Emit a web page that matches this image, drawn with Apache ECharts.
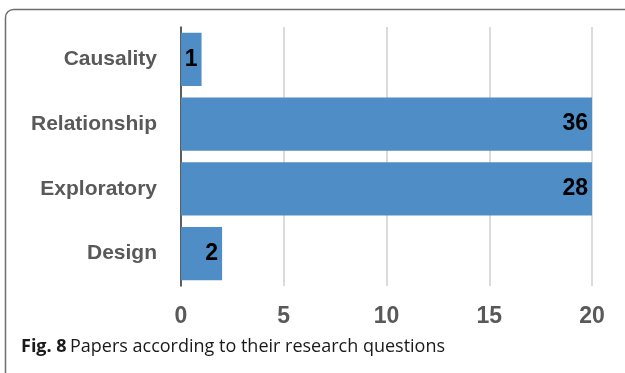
<!DOCTYPE html>
<html>
<head>
<meta charset="utf-8">
<script src="https://cdn.jsdelivr.net/npm/echarts@6/dist/echarts.min.js"></script>
<style>
  html, body { margin: 0; padding: 0; background: #fff; }
  #chart { width: 625px; height: 373px; }
</style>
</head>
<body>
<div id="chart"></div>
<script>
var categories = ['Causality', 'Relationship', 'Exploratory', 'Design'];
var papers = [1, 36, 28, 2];
var xTicks = [0, 5, 10, 15, 20];

// no condensed face installed, Liberation Sans bold comes closest in shape
var labelFont = '"Liberation Sans", Arial, sans-serif';

var chartDom = document.getElementById('chart');
var myChart = echarts.init(chartDom);
var option;

option = {
    animation: false,
    backgroundColor: '#fff',
    grid: {
        left: 181,
        right: 33,
        top: 27,
        bottom: 87
    },
    xAxis: {
        type: 'value',
        min: xTicks[0],
        max: xTicks[xTicks.length - 1],
        interval: 5,
        axisLine: { show: false },
        axisTick: { show: false },
        axisLabel: {
            margin: 19,
            color: '#595959',
            fontFamily: labelFont,
            fontWeight: 'bold',
            fontSize: 23
        },
        splitLine: {
            show: true,
            lineStyle: { color: '#cfcfcf', width: 1.5 }
        }
    },
    yAxis: {
        type: 'category',
        inverse: true,
        data: categories,
        axisLine: { show: true, lineStyle: { color: '#333', width: 1.5 } },
        axisTick: { show: false },
        axisLabel: {
            margin: 24,
            color: '#595959',
            fontFamily: labelFont,
            fontWeight: 'bold',
            fontSize: 21
        }
    },
    series: [{
        type: 'bar',
        data: papers,
        clip: true,
        barCategoryGap: '18%',
        itemStyle: { color: '#4f8dc6' },
        label: {
            show: true,
            position: 'insideRight',
            distance: 4,
            color: '#000',
            fontFamily: labelFont,
            fontWeight: 'bold',
            fontSize: 23
        }
    }],
    graphic: [{
        type: 'rect',
        shape: { x: 5.5, y: 9.5, width: 700, height: 500, r: [8, 0, 0, 0] },
        style: { fill: 'none', stroke: '#6e6e6e', lineWidth: 1.5 },
        silent: true
    }, {
        type: 'text',
        left: 21,
        top: 338,
        style: {
            rich: {
                b: { fontFamily: '"Open Sans", sans-serif', fontWeight: 'bold', fontSize: 18, fill: '#1a1a1a' },
                n: { fontFamily: '"Open Sans", sans-serif', fontSize: 18, fill: '#1a1a1a' }
            },
            text: '{b|Fig. 8} {n|Papers according to their research questions}'
        }
    }]
};

option && myChart.setOption(option);

window.addEventListener('resize', function () {
    myChart.resize();
});
</script>
</body>
</html>
